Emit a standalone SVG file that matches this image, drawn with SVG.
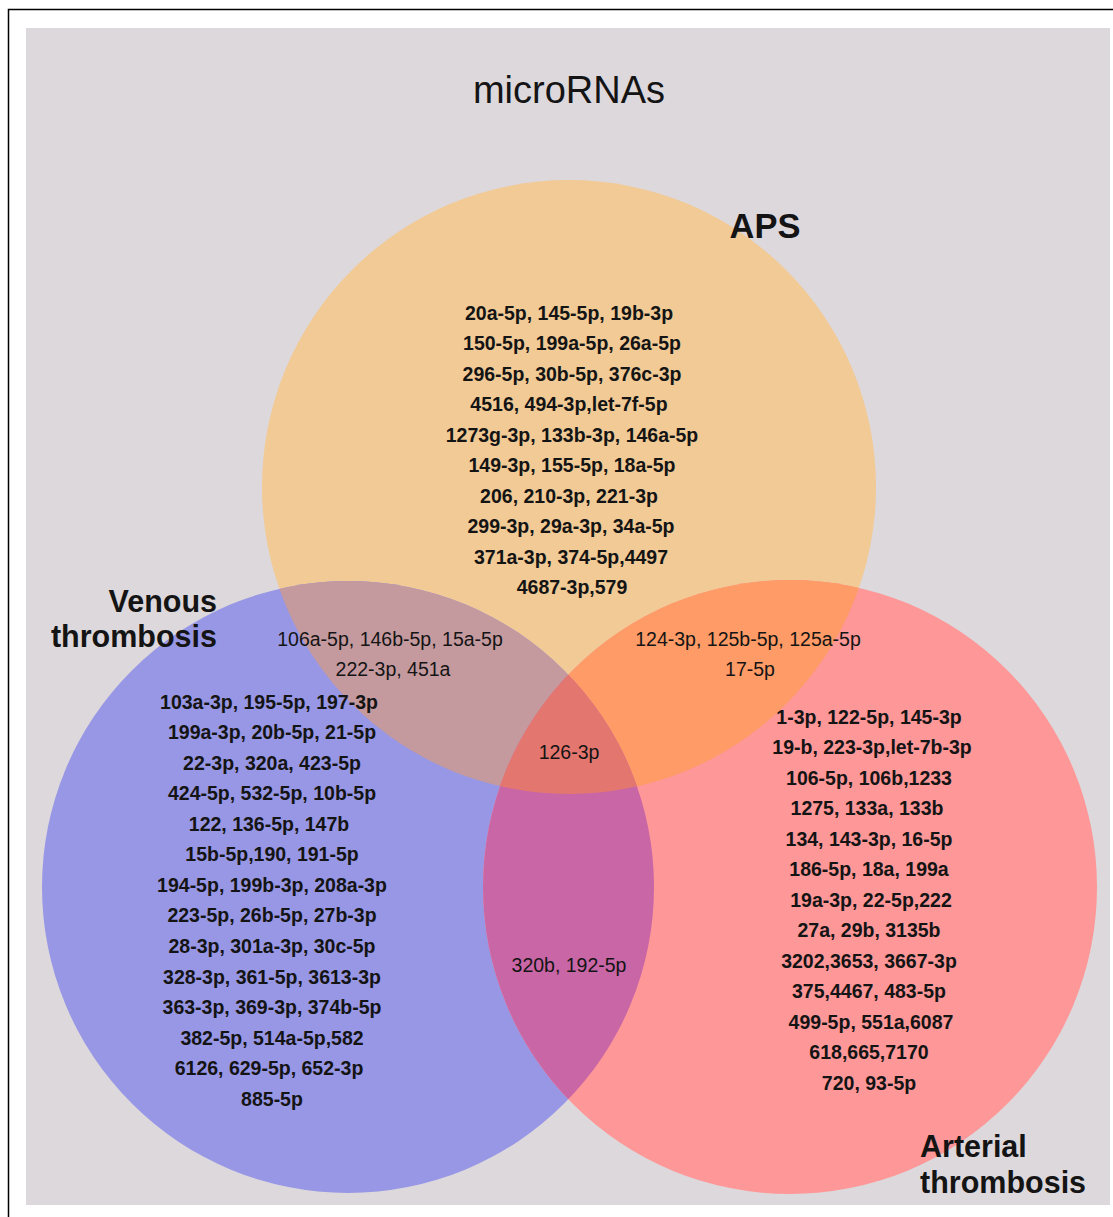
<svg xmlns="http://www.w3.org/2000/svg" width="1113" height="1217" viewBox="0 0 1113 1217">
<style>
text{font-family:"Liberation Sans",Arial,sans-serif;fill:#141414;text-anchor:middle}
.b{font-weight:bold;font-size:19.5px}
.r{font-size:19.5px}
.lab{font-weight:bold;font-size:30.5px}
</style>
<defs>
<clipPath id="cA"><circle cx="569" cy="487" r="307"/></clipPath>
<clipPath id="cV"><circle cx="348" cy="887" r="306"/></clipPath>
<clipPath id="cR"><circle cx="790" cy="887" r="307"/></clipPath>
</defs>
<rect x="0" y="0" width="1113" height="1217" fill="#fff"/>
<rect x="8.5" y="9.5" width="1200" height="1300" fill="none" stroke="#000" stroke-width="1.5"/>
<rect x="26" y="28" width="1084" height="1177" fill="#ddd8dc"/>
<text x="569" y="103" style="font-size:38px">microRNAs</text>
<g id="aps"><circle cx="569" cy="487" r="307" fill="#f1ca96"/></g>
<g id="venous"><circle cx="348" cy="887" r="306" fill="#9897e5"/></g>
<g id="arterial"><circle cx="790" cy="887" r="307" fill="#fe9798"/></g>
<g id="aps-venous" clip-path="url(#cA)"><circle cx="348" cy="887" r="306" fill="#c49a9f"/></g>
<g id="aps-arterial" clip-path="url(#cA)"><circle cx="790" cy="887" r="307" fill="#fe9b66"/></g>
<g id="venous-arterial" clip-path="url(#cV)"><circle cx="790" cy="887" r="307" fill="#c966a6"/></g>
<g id="all-three" clip-path="url(#cA)"><g clip-path="url(#cV)"><circle cx="790" cy="887" r="307" fill="#e37770"/></g></g>
<g id="connectors"/>
<g id="aps-labels">
<text x="765" y="238" class="lab" style="font-size:34.5px">APS</text>
<text class="b" x="569" y="320">20a-5p, 145-5p, 19b-3p</text>
<text class="b" x="572" y="350">150-5p, 199a-5p, 26a-5p</text>
<text class="b" x="572" y="381">296-5p, 30b-5p, 376c-3p</text>
<text class="b" x="569" y="411">4516, 494-3p,let-7f-5p</text>
<text class="b" x="572" y="442">1273g-3p, 133b-3p, 146a-5p</text>
<text class="b" x="572" y="472">149-3p, 155-5p, 18a-5p</text>
<text class="b" x="569" y="503">206, 210-3p, 221-3p</text>
<text class="b" x="571" y="533">299-3p, 29a-3p, 34a-5p</text>
<text class="b" x="571" y="564">371a-3p, 374-5p,4497</text>
<text class="b" x="572" y="594">4687-3p,579</text>
</g>
<g id="venous-labels">
<text x="217" y="612" class="lab" style="text-anchor:end">Venous</text>
<text x="217" y="647" class="lab" style="text-anchor:end">thrombosis</text>
<text class="b" x="269" y="709">103a-3p, 195-5p, 197-3p</text>
<text class="b" x="272" y="739">199a-3p, 20b-5p, 21-5p</text>
<text class="b" x="272" y="770">22-3p, 320a, 423-5p</text>
<text class="b" x="272" y="800">424-5p, 532-5p, 10b-5p</text>
<text class="b" x="269" y="831">122, 136-5p, 147b</text>
<text class="b" x="272" y="861">15b-5p,190, 191-5p</text>
<text class="b" x="272" y="892">194-5p, 199b-3p, 208a-3p</text>
<text class="b" x="272" y="922">223-5p, 26b-5p, 27b-3p</text>
<text class="b" x="272" y="953">28-3p, 301a-3p, 30c-5p</text>
<text class="b" x="272" y="984">328-3p, 361-5p, 3613-3p</text>
<text class="b" x="272" y="1014">363-3p, 369-3p, 374b-5p</text>
<text class="b" x="272" y="1045">382-5p, 514a-5p,582</text>
<text class="b" x="269" y="1075">6126, 629-5p, 652-3p</text>
<text class="b" x="272" y="1106">885-5p</text>
</g>
<g id="arterial-labels">
<text x="920" y="1157" class="lab" style="text-anchor:start">Arterial</text>
<text x="920" y="1193" class="lab" style="text-anchor:start">thrombosis</text>
<text class="b" x="869" y="724">1-3p, 122-5p, 145-3p</text>
<text class="b" x="872" y="754">19-b, 223-3p,let-7b-3p</text>
<text class="b" x="869" y="785">106-5p, 106b,1233</text>
<text class="b" x="867" y="815">1275, 133a, 133b</text>
<text class="b" x="869" y="846">134, 143-3p, 16-5p</text>
<text class="b" x="869" y="876">186-5p, 18a, 199a</text>
<text class="b" x="871" y="907">19a-3p, 22-5p,222</text>
<text class="b" x="869" y="937">27a, 29b, 3135b</text>
<text class="b" x="869" y="968">3202,3653, 3667-3p</text>
<text class="b" x="869" y="998">375,4467, 483-5p</text>
<text class="b" x="871" y="1029">499-5p, 551a,6087</text>
<text class="b" x="869" y="1059">618,665,7170</text>
<text class="b" x="869" y="1090">720, 93-5p</text>
</g>
<g id="overlap-labels">
<text class="r" x="390" y="646">106a-5p, 146b-5p, 15a-5p</text>
<text class="r" x="393" y="676">222-3p, 451a</text>
<text class="r" x="748" y="646">124-3p, 125b-5p, 125a-5p</text>
<text class="r" x="750" y="676">17-5p</text>
<text class="r" x="569" y="759">126-3p</text>
<text class="r" x="569" y="972">320b, 192-5p</text>
</g>
</svg>
